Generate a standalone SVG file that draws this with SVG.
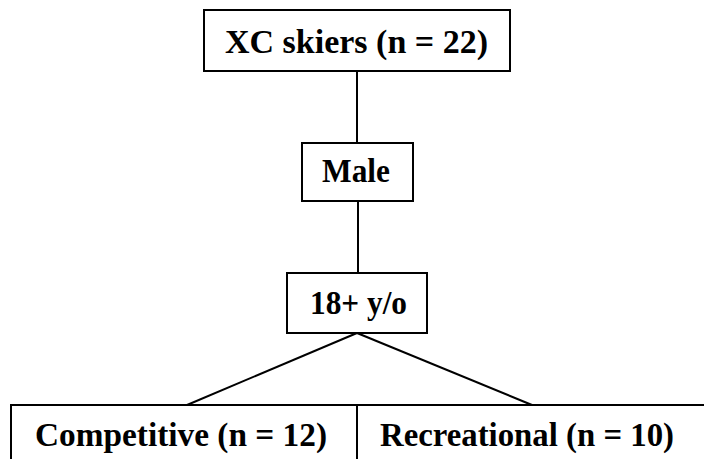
<svg xmlns="http://www.w3.org/2000/svg" width="704" height="459" viewBox="0 0 704 459">
<style>
.box{fill:#fff;stroke:#000;stroke-width:2}
.t{font-family:"Liberation Serif","Times New Roman",serif;font-weight:bold;font-size:33px;fill:#000}
.c{stroke:#000;stroke-width:2;fill:none}
</style>
<rect width="704" height="459" fill="#fff"/>
<g id="connectors">
<line class="c" x1="357" y1="71" x2="357" y2="143"/>
<line class="c" x1="358" y1="201" x2="358" y2="273"/>
<line class="c" x1="357" y1="333" x2="187" y2="405"/>
<line class="c" x1="357" y1="333" x2="532" y2="405"/>
</g>
<g id="n1">
<rect class="box" x="204" y="10" width="306" height="61"/>
<text class="t" x="225" y="53" textLength="263" lengthAdjust="spacingAndGlyphs">XC skiers (n = 22)</text>
</g>
<g id="n2">
<rect class="box" x="302" y="143" width="111" height="58"/>
<text class="t" x="322" y="182" textLength="68" lengthAdjust="spacingAndGlyphs">Male</text>
</g>
<g id="n3">
<rect class="box" x="287" y="273" width="140" height="60"/>
<text class="t" x="310" y="314" textLength="97" lengthAdjust="spacingAndGlyphs">18+ y/o</text>
</g>
<g id="n4">
<rect class="box" x="11" y="405" width="346" height="70"/>
<text class="t" x="35" y="446" textLength="292" lengthAdjust="spacingAndGlyphs">Competitive (n = 12)</text>
</g>
<g id="n5">
<rect class="box" x="357" y="405" width="360" height="70"/>
<text class="t" x="380" y="446" textLength="294" lengthAdjust="spacingAndGlyphs">Recreational (n = 10)</text>
</g>
</svg>
